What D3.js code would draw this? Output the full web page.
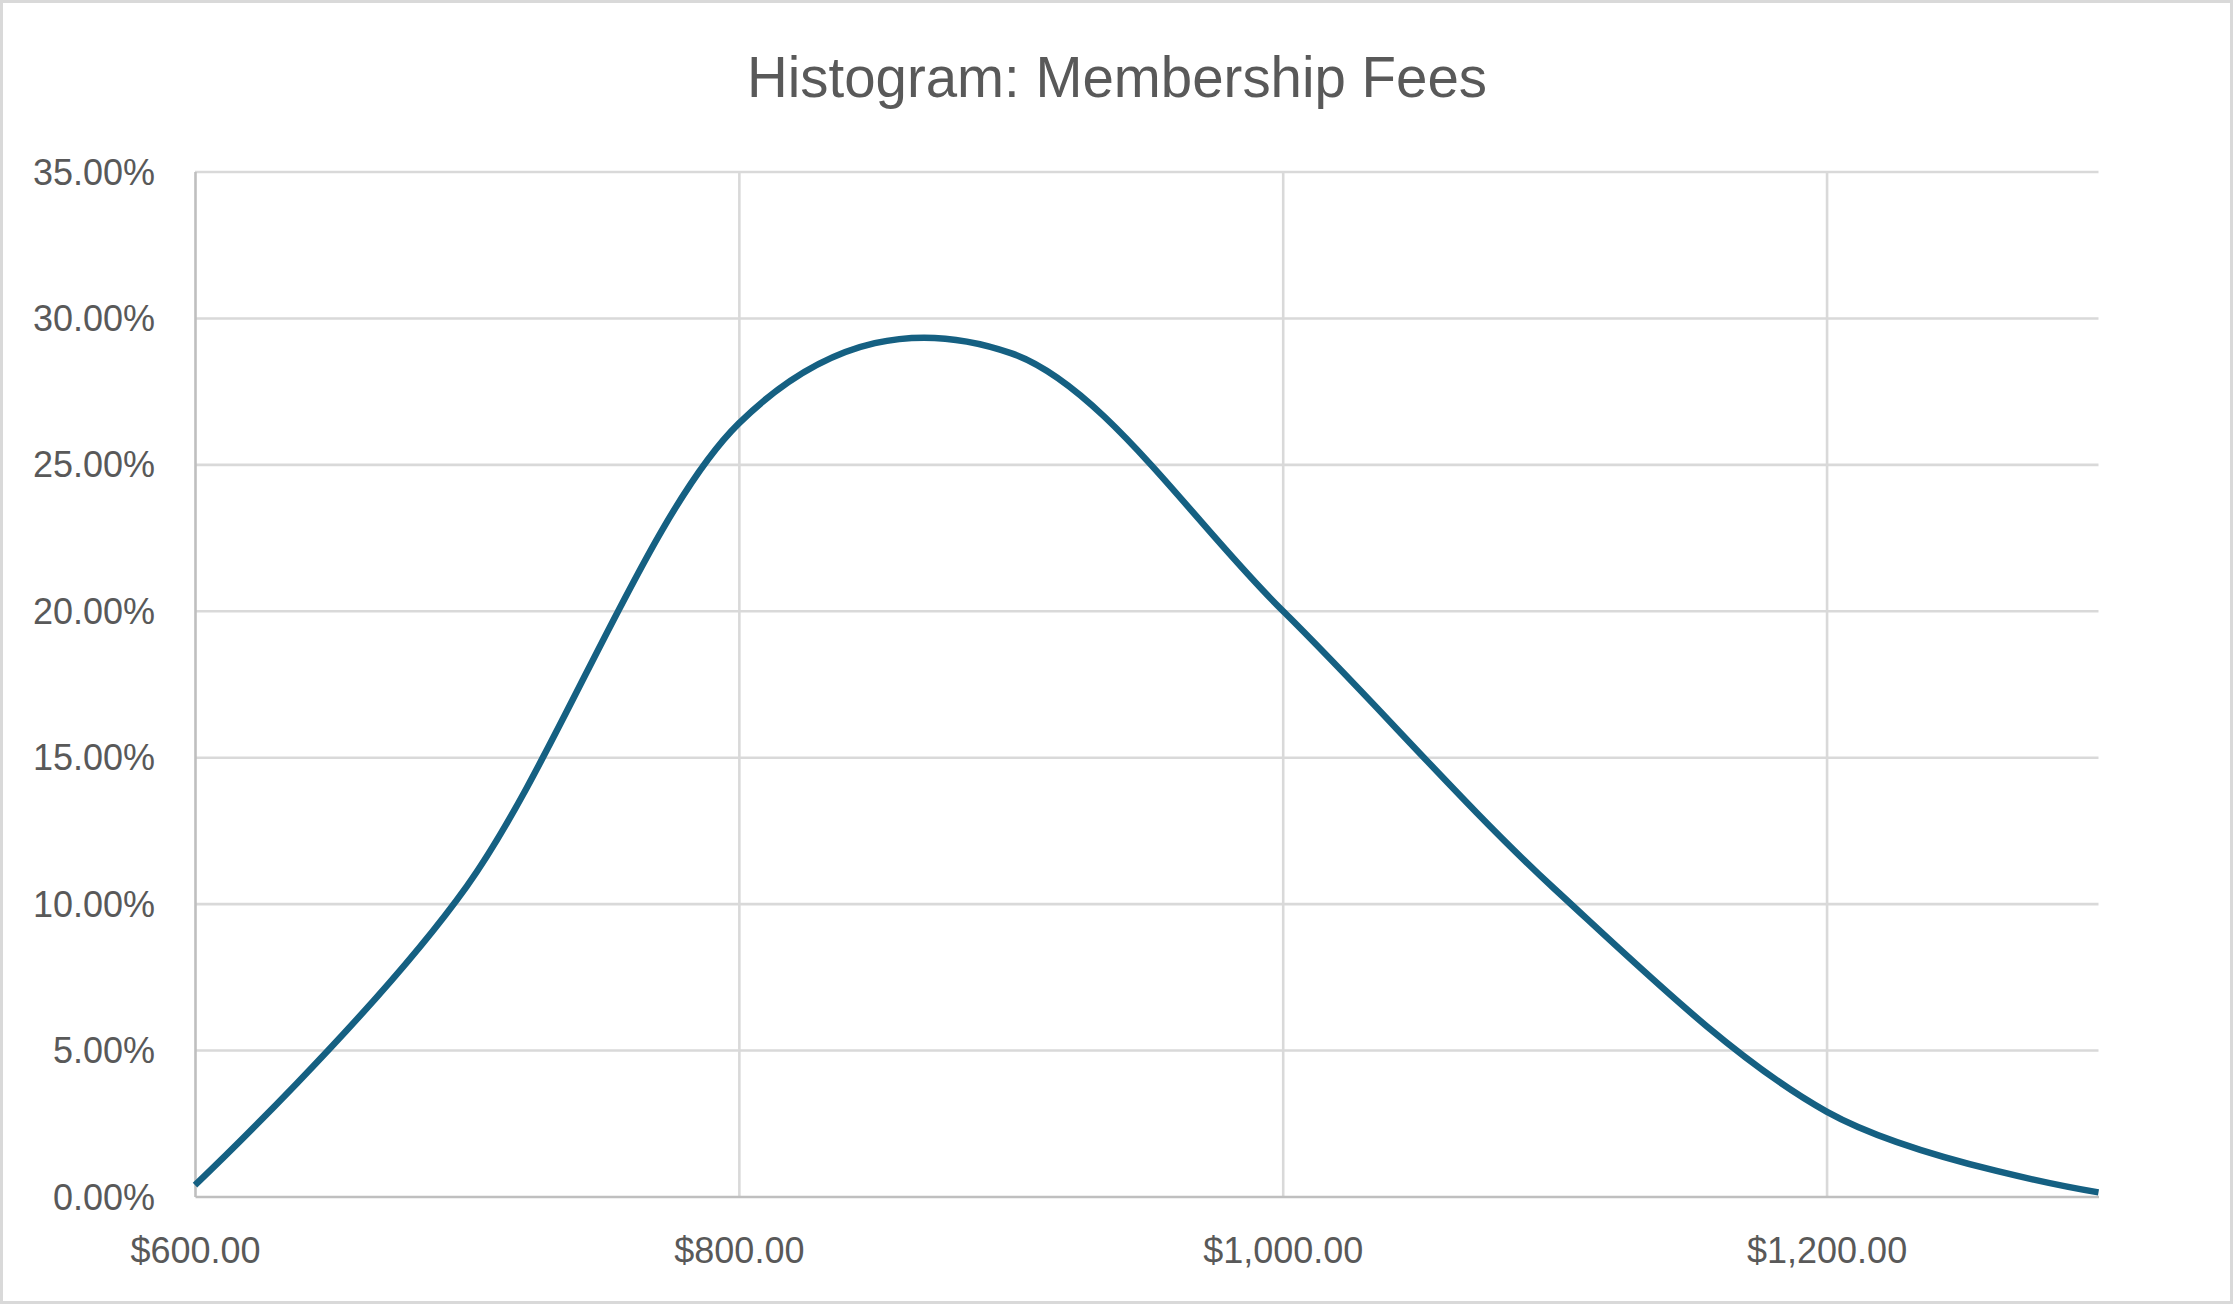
<!DOCTYPE html>
<html>
<head>
<meta charset="utf-8">
<script src="https://cdn.jsdelivr.net/npm/d3@7"></script>
<style>
  html, body { margin: 0; padding: 0; background: #ffffff; }
  svg { display: block; }
</style>
</head>
<body>
<div id="chart"></div>
<script>
// ---- Data ----
const chartTitle = "Histogram: Membership Fees";
const feePoints = [600, 700, 800, 900, 1000, 1100, 1200, 1300];
const percentValues = [0.39, 10.6, 26.4, 28.8, 20.0, 10.5, 2.9, 0.14];
const yTickValues = [0, 5, 10, 15, 20, 25, 30, 35];
const xTickValues = [600, 800, 1000, 1200];

// ---- Layout ----
const W = 2234, H = 1305;
const plot = { left: 195, right: 2098.5, top: 171.5, bottom: 1196.5 };

const svg = d3.select("#chart").append("svg")
  .attr("width", W).attr("height", H);

svg.append("rect")
  .attr("x", 1.5).attr("y", 1.5)
  .attr("width", W - 4).attr("height", H - 4)
  .attr("fill", "#ffffff")
  .attr("stroke", "#d9d9d9").attr("stroke-width", 3);

const x = d3.scaleLinear().domain([600, 1300]).range([plot.left, plot.right]);
const y = d3.scaleLinear().domain([0, 35]).range([plot.bottom, plot.top]);

const font = "'Liberation Sans', Arial, sans-serif";
const textColor = "#595959";

// Title
svg.append("text")
  .attr("x", W / 2).attr("y", 97)
  .attr("text-anchor", "middle")
  .attr("font-family", font)
  .attr("font-size", 58)
  .attr("fill", textColor)
  .attr("textLength", 740)
  .attr("lengthAdjust", "spacingAndGlyphs")
  .text(chartTitle);

// Horizontal gridlines
const hGrid = svg.append("g")
  .attr("transform", `translate(${plot.left},0)`)
  .call(d3.axisLeft(y).tickValues(yTickValues.filter(v => v > 0))
    .tickSize(-(plot.right - plot.left)).tickFormat(""));
hGrid.select(".domain").remove();
hGrid.selectAll(".tick line").attr("stroke", "#d9d9d9").attr("stroke-width", 2.6);

// Vertical gridlines
const vGrid = svg.append("g")
  .attr("transform", `translate(0,${plot.bottom})`)
  .call(d3.axisBottom(x).tickValues(xTickValues.filter(v => v > 600))
    .tickSize(-(plot.bottom - plot.top)).tickFormat(""));
vGrid.select(".domain").remove();
vGrid.selectAll(".tick line").attr("stroke", "#d9d9d9").attr("stroke-width", 2.6);

// Y axis
const yAxis = svg.append("g")
  .attr("transform", `translate(${plot.left},0)`)
  .call(d3.axisLeft(y).tickValues(yTickValues)
    .tickSize(0).tickPadding(40)
    .tickFormat(d => d.toFixed(2) + "%"));
yAxis.select(".domain").attr("stroke", "#bfbfbf").attr("stroke-width", 2.6);
yAxis.selectAll(".tick text")
  .attr("font-family", font).attr("font-size", 36)
  .attr("fill", textColor).attr("dy", "0.35em");

// X axis
const fmtMoney = d3.format("$,.2f");
const xAxis = svg.append("g")
  .attr("transform", `translate(0,${plot.bottom})`)
  .call(d3.axisBottom(x).tickValues(xTickValues)
    .tickSize(0).tickPadding(0)
    .tickFormat(d => fmtMoney(d)));
xAxis.select(".domain").attr("stroke", "#bfbfbf").attr("stroke-width", 2.6);
xAxis.selectAll(".tick text")
  .attr("font-family", font).attr("font-size", 36)
  .attr("fill", textColor).attr("y", 66).attr("dy", 0);

// Smoothed line
const data = feePoints.map((f, i) => ({ fee: f, pct: percentValues[i] }));
const line = d3.line()
  .x(d => x(d.fee))
  .y(d => y(d.pct))
  .curve(d3.curveCardinal.tension(0));

svg.append("path")
  .datum(data)
  .attr("d", line)
  .attr("fill", "none")
  .attr("stroke", "#156082")
  .attr("stroke-width", 6.5)
  .attr("stroke-linecap", "butt")
  .attr("stroke-linejoin", "round");
</script>
</body>
</html>
